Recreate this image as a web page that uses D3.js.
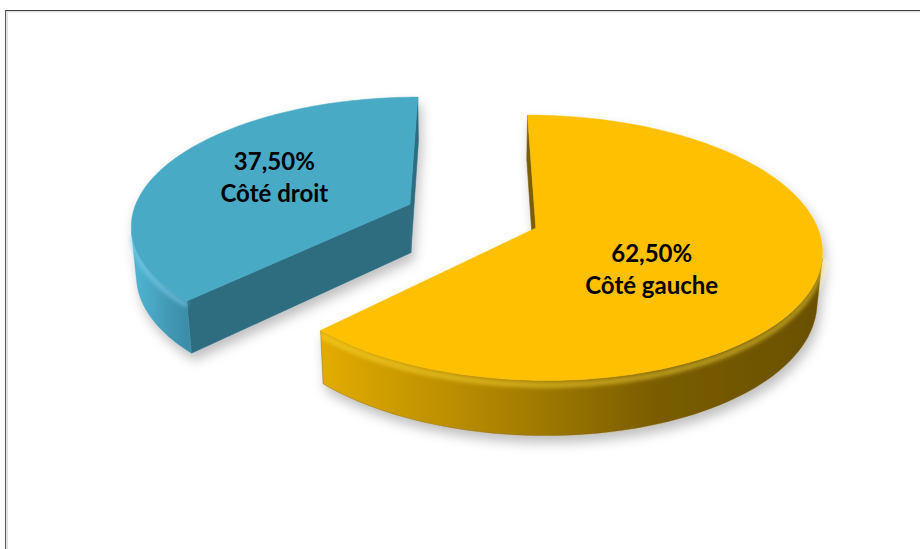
<!DOCTYPE html>
<html>
<head>
<meta charset="utf-8">
<script src="https://cdn.jsdelivr.net/npm/d3@7"></script>
<style>
  html, body { margin: 0; padding: 0; background: #ffffff; }
  svg { display: block; }
</style>
</head>
<body>
<svg id="chart" width="920" height="549"></svg>
<script>
// ---- data ----
const categories = ["Côté gauche", "Côté droit"];
const shares = [0.625, 0.375];

// ---- styling per category ----
const palette = {
  "Côté gauche": { top: "#FEC000", cut: "#7C5D00", rim: ["#E3AC00", "#B08600", "#7A5D00", "#6A5000"], glow: "#FFDD40" },
  "Côté droit":  { top: "#4AAAC6", cut: "#2F6C7F", rim: ["#52B6D4", "#49A9C6", "#4299B5", "#3A8DA8"], glow: "#86D6F0" }
};
// label anchor nudges (px) relative to the projected mid point of each slice
const labelNudge = { "Côté gauche": [-20, 12], "Côté droit": [-14, -8] };

const W = 920, H = 549;
const svg = d3.select("#chart");
const defs = svg.append("defs");

// ---- chart frame ----
svg.append("line").attr("x1", 6).attr("x2", W).attr("y1", 11.5).attr("y2", 11.5)
  .attr("stroke", "#e2e2e2").attr("stroke-width", 2);
svg.append("line").attr("x1", 7).attr("x2", 7).attr("y1", 11).attr("y2", H)
  .attr("stroke", "#e2e2e2").attr("stroke-width", 2);
svg.append("line").attr("x1", 5).attr("x2", W).attr("y1", 10.5).attr("y2", 10.5)
  .attr("stroke", "#3c3c3c").attr("stroke-width", 1);
svg.append("line").attr("x1", 5.5).attr("x2", 5.5).attr("y1", 10).attr("y2", H)
  .attr("stroke", "#5a5a5a").attr("stroke-width", 1);

// ---- 3D view (unit-radius pie, perspective camera tilted down) ----
const view = {
  cx: 472, cy: 216,        // screen position of the pie axis
  tilt: 27 * Math.PI / 180,
  persp: 0.165,            // radius / camera distance
  thickness: 0.2,
  explode: 0.245
};
const radius = d3.scaleLinear().domain([0, 1]).range([0, 278]);
const ce = Math.cos(view.tilt), se = Math.sin(view.tilt);
const camDist = 1 / view.persp;
const cam = [0, camDist * se, camDist * ce];

function project(p) {
  const [x, y, z] = p;
  const up = y * ce - z * se;
  const d = y * se + z * ce;
  const s = radius(1) / (1 - view.persp * d);
  return [view.cx + x * s, view.cy - up * s];
}
function facesCamera(p, n) {
  return n[0] * (cam[0] - p[0]) + n[1] * (cam[1] - p[1]) + n[2] * (cam[2] - p[2]) > 0;
}

const arcs = d3.pie().sort(null).value(d => d)(shares);

const fmt = d3.formatLocale({ decimal: ",", thousands: " ", grouping: [3], currency: ["", " €"], percent: "%" }).format(".2%");

// shadow filter
const shadow = defs.append("filter").attr("id", "shadow")
  .attr("x", "-20%").attr("y", "-20%").attr("width", "140%").attr("height", "150%");
shadow.append("feDropShadow").attr("dx", 3).attr("dy", 7).attr("stdDeviation", 6)
  .attr("flood-color", "#000").attr("flood-opacity", 0.25);
const soft = defs.append("filter").attr("id", "soft").attr("x", "-10%").attr("y", "-50%")
  .attr("width", "120%").attr("height", "200%");
soft.append("feGaussianBlur").attr("stdDeviation", 2.2);

const line = d3.line();

const slices = arcs.map((a, i) => {
  const name = categories[i];
  const mid = (a.startAngle + a.endAngle) / 2;
  const off = [view.explode * Math.sin(mid), 0, -view.explode * Math.cos(mid)];
  const pt = (ang, r, y) => [off[0] + r * Math.sin(ang), y, off[2] - r * Math.cos(ang)];
  const depth = off[1] * se + off[2] * ce;
  return { a, i, name, mid, off, pt, depth };
}).sort((p, q) => p.depth - q.depth);

const gAll = svg.append("g");

slices.forEach(sl => {
  const { a, name, pt } = sl;
  const col = palette[name];
  const h = -view.thickness;
  const n = 120;
  const angs = d3.range(n + 1).map(k => a.startAngle + (a.endAngle - a.startAngle) * k / n);

  const g = gAll.append("g").attr("filter", "url(#shadow)");

  // radial cut faces
  const cuts = [
    { ang: a.startAngle, normal: [-Math.cos(a.startAngle), 0, -Math.sin(a.startAngle)] },
    { ang: a.endAngle, normal: [Math.cos(a.endAngle), 0, Math.sin(a.endAngle)] }
  ];
  cuts.forEach(c => {
    const mp = pt(c.ang, 0.5, h / 2);
    if (!facesCamera(mp, c.normal)) return;
    const poly = [pt(c.ang, 0, 0), pt(c.ang, 1, 0), pt(c.ang, 1, h), pt(c.ang, 0, h)].map(project);
    g.append("path").attr("d", line(poly) + "Z").attr("fill", col.cut)
      .attr("stroke", col.cut).attr("stroke-width", 0.6).attr("stroke-linejoin", "round");
  });

  // outer rim: contiguous runs of camera-facing segments
  const runs = [];
  let cur = null;
  for (let k = 0; k < n; k++) {
    const am = (angs[k] + angs[k + 1]) / 2;
    const vis = facesCamera(pt(am, 1, h / 2), [Math.sin(am), 0, -Math.cos(am)]);
    if (vis) { if (!cur) { cur = [angs[k]]; runs.push(cur); } cur.push(angs[k + 1]); }
    else cur = null;
  }
  runs.forEach((run, ri) => {
    const topPts = run.map(t => project(pt(t, 1, 0)));
    const botPts = run.map(t => project(pt(t, 1, h))).reverse();
    const xs = topPts.map(p => p[0]);
    const gid = "rim-" + sl.i + "-" + ri;
    const grad = defs.append("linearGradient").attr("id", gid)
      .attr("gradientUnits", "userSpaceOnUse")
      .attr("x1", d3.min(xs)).attr("x2", d3.max(xs)).attr("y1", 0).attr("y2", 0);
    col.rim.forEach((c, j) => grad.append("stop")
      .attr("offset", j / (col.rim.length - 1)).attr("stop-color", c));
    g.append("path").attr("d", line(topPts.concat(botPts)) + "Z")
      .attr("fill", `url(#${gid})`).attr("stroke", col.rim[2]).attr("stroke-width", 0.4);
    // soft bevel highlight along the upper rim edge
    const hiPts = run.map(t => project(pt(t, 1, h * 0.08)));
    g.append("path").attr("d", line(hiPts)).attr("fill", "none")
      .attr("stroke", col.glow).attr("stroke-width", 5).attr("stroke-opacity", 0.55)
      .attr("filter", "url(#soft)");
  });

  // top face
  const topPoly = [project(pt(0, 0, 0))].concat(angs.map(t => project(pt(t, 1, 0))));
  g.append("path").attr("d", line(topPoly) + "Z").attr("fill", col.top)
    .attr("stroke", col.top).attr("stroke-width", 0.5).attr("stroke-linejoin", "round");

  sl.labelAt = project(pt(sl.mid, 0.5, 0));
});

// ---- data labels ----
const labels = svg.append("g")
  .attr("font-family", "Lato, 'Open Sans', sans-serif")
  .attr("font-weight", "bold").attr("font-size", 24).attr("fill", "#000")
  .attr("text-anchor", "middle");
slices.forEach(sl => {
  const [nx, ny] = labelNudge[sl.name];
  const x = sl.labelAt[0] + nx, y = sl.labelAt[1] + ny;
  const t = labels.append("text").attr("x", x).attr("y", y);
  t.append("tspan").attr("x", x).attr("dy", "-0.15em").text(fmt(shares[sl.i]));
  t.append("tspan").attr("x", x).attr("dy", "1.32em").text(sl.name);
});
</script>
</body>
</html>
